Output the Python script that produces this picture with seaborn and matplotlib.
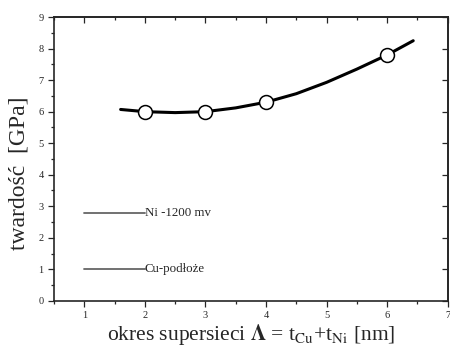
import numpy as np
import pandas as pd
import seaborn as sns
from matplotlib import pyplot as plt
from matplotlib.ticker import MultipleLocator, NullFormatter

# measured points
meas_x = [2, 3, 4, 6]
meas_y = [6.0, 6.0, 6.3, 7.8]

# fitted curve
curve_x = [1.6, 2.0, 2.5, 3.0, 3.5, 4.0, 4.5, 5.0, 5.5, 6.0, 6.43]
curve_y = [6.07, 6.0, 5.97, 6.0, 6.12, 6.3, 6.57, 6.93, 7.35, 7.8, 8.25]

# reference levels drawn as short lines
ref_labels = ["Ni -1200 mv", "Cu-podłoże"]
ref_level = [2.8, 1.0]
ref_x = [1, 2]

sns.set_theme(style="ticks")
plt.rcParams['font.family'] = ['Liberation Serif', 'DejaVu Serif']
plt.rcParams['mathtext.fontset'] = 'stix'

fig, ax = plt.subplots(figsize=(4.5, 3.56), dpi=100)
fig.subplots_adjust(left=0.12, right=0.995, bottom=0.155, top=0.952)

curve = pd.DataFrame({'x': curve_x, 'y': curve_y})
sns.lineplot(data=curve, x='x', y='y', color='black', lw=2.2, ax=ax)

for lab, lvl in zip(ref_labels, ref_level):
    seg = pd.DataFrame({'x': ref_x, 'y': [lvl, lvl]})
    sns.lineplot(data=seg, x='x', y='y', color='#666666', lw=1.3, ax=ax)
    ax.text(ref_x[1], lvl, lab, fontsize=9.3, va='center', ha='left')

pts = pd.DataFrame({'x': meas_x, 'y': meas_y})
sns.scatterplot(data=pts, x='x', y='y', s=100, color='white', edgecolor='black',
                linewidth=1.1, zorder=5, ax=ax)

ax.set_xlim(0.5, 7)
ax.set_ylim(0, 9)
ax.xaxis.set_major_locator(MultipleLocator(1))
ax.xaxis.set_minor_locator(MultipleLocator(0.5))
ax.yaxis.set_major_locator(MultipleLocator(1))
ax.yaxis.set_minor_locator(MultipleLocator(0.5))
ax.tick_params(which='both', labelsize=7.5, direction='out', width=0.9)
ax.tick_params(which='major', length=4)
ax.tick_params(which='minor', length=2)
for s in ax.spines.values():
    s.set_linewidth(1.2)

top = ax.secondary_xaxis('top')
top.xaxis.set_major_locator(MultipleLocator(1))
top.xaxis.set_minor_locator(MultipleLocator(0.5))
top.xaxis.set_major_formatter(NullFormatter())
top.tick_params(which='both', direction='in', width=0.9)
top.tick_params(which='major', length=4)
top.tick_params(which='minor', length=2)

right = ax.secondary_yaxis('right')
right.yaxis.set_major_locator(MultipleLocator(1))
right.yaxis.set_minor_locator(MultipleLocator(0.5))
right.yaxis.set_major_formatter(NullFormatter())
right.tick_params(which='both', direction='in', width=0.9)
right.tick_params(which='major', length=4)
right.tick_params(which='minor', length=0)

ax.set_xlabel(r"okres supersieci $\mathbf{\Lambda}$ = t$_{\mathrm{Cu}}$+t$_{\mathrm{Ni}}$ [nm]",
              fontsize=15.5, labelpad=1)
ax.set_ylabel("twardość  [GPa]", fontsize=17)
ax.yaxis.set_label_coords(-0.063, 0.45)

fig.savefig("out.png", dpi=100, facecolor='white')
